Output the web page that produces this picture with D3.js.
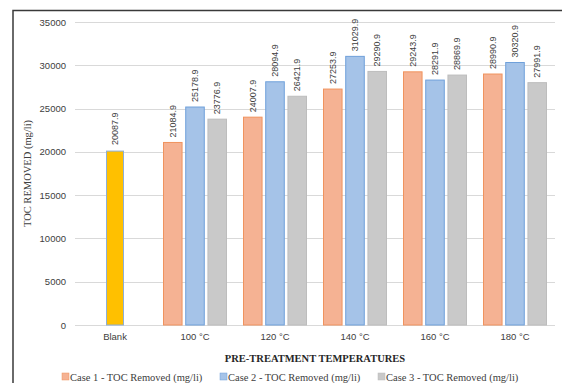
<!DOCTYPE html>
<html>
<head>
<meta charset="utf-8">
<script src="https://cdn.jsdelivr.net/npm/d3@7"></script>
<style>
  html, body { margin: 0; padding: 0; background: #fff; }
  svg { display: block; }
</style>
</head>
<body>
<svg id="chart" width="562" height="383"></svg>
<script>
const categories = ["Blank", "100 \u00B0C", "120 \u00B0C", "140 \u00B0C", "160 \u00B0C", "180 \u00B0C"];
const blankValue = [20087.9];
const case1 = [null, 21084.9, 24007.9, 27253.9, 29243.9, 28990.9];
const case2 = [null, 25178.9, 28094.9, 31029.9, 28291.9, 30320.9];
const case3 = [null, 23776.9, 26421.9, 29290.9, 28869.9, 27991.9];
const seriesNames = ["Case 1 - TOC Removed (mg/li)", "Case 2 - TOC Removed (mg/li)", "Case 3 - TOC Removed (mg/li)"];
const yTicks = [0, 5000, 10000, 15000, 20000, 25000, 30000, 35000];

(function () {
const fills = ["#F5B293", "#A5C3E8", "#C9C9C9"];
const strokes = ["#F0935E", "#6FA0DA", "#BDBDBD"];
const serif = "'Liberation Serif', 'Times New Roman', serif";
const sans = "'Liberation Sans', Arial, sans-serif";

const svg = d3.select("#chart");

// frame
svg.append("rect").attr("x", 13).attr("y", 10.5).attr("width", 620).attr("height", 420)
  .attr("fill", "none").attr("stroke", "#3a3a3a").attr("stroke-width", 1.5);

const pLeft = 75, pRight = 555, pTop = 22, pBottom = 325;

const x = d3.scaleBand().domain(categories).range([pLeft, pRight]).padding(0);
const y = d3.scaleLinear().domain([0, 35000]).range([pBottom, pTop]);
const inner = d3.scaleBand().domain([0, 1, 2]).range([-32, 32]).paddingInner(0.12).paddingOuter(0);

// gridlines
svg.append("g").selectAll("line").data(yTicks).join("line")
  .attr("x1", pLeft).attr("x2", pRight)
  .attr("y1", d => Math.round(y(d)) + 0.5).attr("y2", d => Math.round(y(d)) + 0.5)
  .attr("stroke", "#D9D9D9").attr("stroke-width", 1);

// y axis labels
const yAxis = d3.axisLeft(y).tickValues(yTicks).tickSize(0).tickPadding(0).tickFormat(d3.format("d"));
const ya = svg.append("g").attr("transform", `translate(66,0)`).call(yAxis);
ya.select(".domain").remove();
ya.selectAll("text").attr("font-family", sans).attr("font-size", 9.5).attr("fill", "#404040");

// x axis labels
const xAxis = d3.axisBottom(x).tickSize(0).tickPadding(0);
const xa = svg.append("g").attr("transform", `translate(0,333)`).call(xAxis);
xa.select(".domain").remove();
xa.selectAll("text").attr("font-family", sans).attr("font-size", 9.5).attr("fill", "#404040");

const labelFmt = d3.format(".1f");

// blank bar
const bw = 18;
const bcx = x("Blank") + x.bandwidth() / 2;
svg.append("g").selectAll("rect").data(blankValue).join("rect")
  .attr("x", bcx - bw / 2 + 0.5).attr("width", bw - 1)
  .attr("y", d => y(d)).attr("height", d => y(0) - y(d))
  .attr("fill", "#FFC000").attr("stroke", "#8DAFD6").attr("stroke-width", 1);
svg.append("g").selectAll("text").data(blankValue).join("text")
  .attr("transform", d => `translate(${bcx + 3},${y(d) - 6}) rotate(-90)`)
  .attr("font-family", sans).attr("font-size", 9).attr("fill", "#404040")
  .text(d => labelFmt(d));

// case bars
[case1, case2, case3].forEach((vals, si) => {
  const data = vals.map((v, i) => ({ cat: categories[i], v })).filter(d => d.v != null);
  const g = svg.append("g");
  g.selectAll("rect").data(data).join("rect")
    .attr("x", d => x(d.cat) + x.bandwidth() / 2 + inner(si) + 0.5)
    .attr("width", inner.bandwidth() - 1)
    .attr("y", d => y(d.v)).attr("height", d => y(0) - y(d.v))
    .attr("fill", fills[si]).attr("stroke", strokes[si]).attr("stroke-width", 1);
  g.selectAll("text").data(data).join("text")
    .attr("transform", d => `translate(${x(d.cat) + x.bandwidth() / 2 + inner(si) + inner.bandwidth() / 2 + 3},${y(d.v) - 5}) rotate(-90)`)
    .attr("font-family", sans).attr("font-size", 9).attr("fill", "#404040")
    .text(d => labelFmt(d.v));
});

// axis titles
svg.append("text")
  .attr("transform", `translate(31,${(pTop + pBottom) / 2}) rotate(-90)`)
  .attr("text-anchor", "middle")
  .attr("font-family", serif).attr("font-size", 10.5)
  .attr("fill", "#404040")
  .text("TOC REMOVED (mg/li)");

svg.append("text")
  .attr("x", (pLeft + pRight) / 2).attr("y", 362)
  .attr("text-anchor", "middle")
  .attr("font-family", serif).attr("font-size", 10.5)
  .attr("font-weight", "bold").attr("fill", "#262626")
  .text("PRE-TREATMENT TEMPERATURES");

// legend
const legendX = [62, 220, 378];
const lg = svg.append("g");
seriesNames.forEach((name, i) => {
  lg.append("rect").attr("x", legendX[i]).attr("y", 373).attr("width", 7).attr("height", 7)
    .attr("fill", fills[i]).attr("stroke", strokes[i]).attr("stroke-width", 0.5);
  lg.append("text").attr("x", legendX[i] + 8).attr("y", 380.5)
    .attr("font-family", serif).attr("font-size", 10.5)
    .attr("fill", "#404040").text(name);
});
})();
</script>
</body>
</html>
